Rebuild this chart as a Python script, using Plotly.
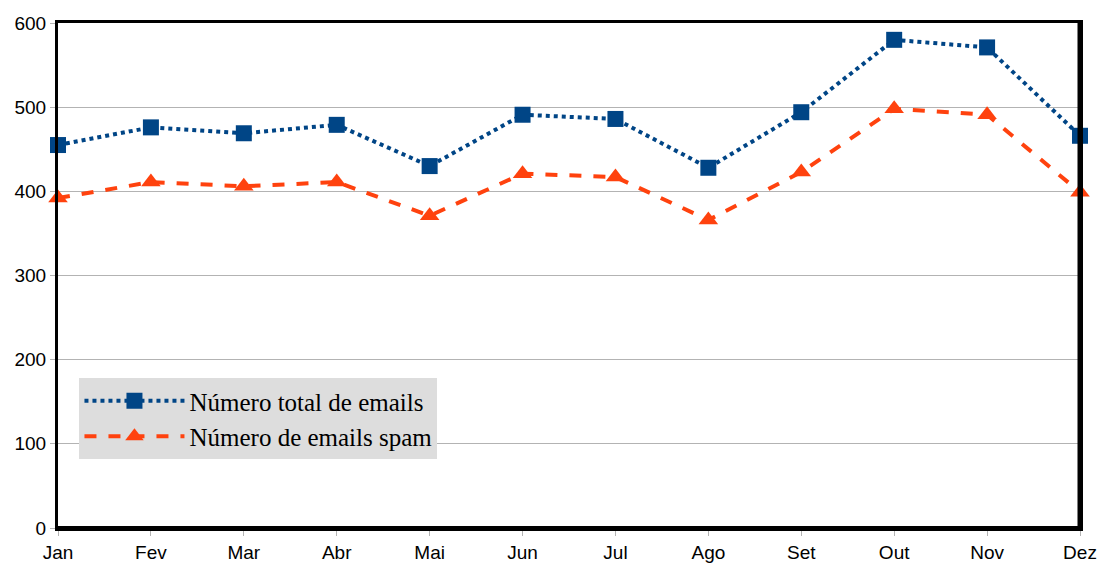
import plotly.graph_objects as go

months = ["Jan", "Fev", "Mar", "Abr", "Mai", "Jun", "Jul", "Ago", "Set", "Out", "Nov", "Dez"]
total_emails = [455, 476, 469, 479, 430, 491, 486, 428, 494, 580, 571, 466]
spam_emails = [392, 411, 406, 411, 371, 421, 417, 366, 423, 498, 491, 399]
y_ticks = [0, 100, 200, 300, 400, 500, 600]

fig = go.Figure()
fig.add_trace(go.Scatter(
    x=months, y=total_emails, name="Número total de emails", mode="lines+markers",
    line=dict(color="#004586", width=4, dash="dot"),
    marker=dict(symbol="square", size=16, color="#004586"),
    cliponaxis=False,
))
fig.add_trace(go.Scatter(
    x=months, y=spam_emails, name="Número de emails spam", mode="lines+markers",
    line=dict(color="#ff420e", width=4, dash="dash"),
    marker=dict(symbol="triangle-up", size=17, color="#ff420e"),
    cliponaxis=False,
))

fig.update_layout(
    width=1099, height=563,
    margin=dict(l=58, r=19, t=23, b=35),
    paper_bgcolor="white", plot_bgcolor="white",
    font=dict(family="Liberation Sans, Arial, sans-serif", size=19, color="black"),
    showlegend=True,
    legend=dict(
        x=0.021, y=0.297, xanchor="left", yanchor="top",
        bgcolor="#dddddd",
        font=dict(family="Liberation Serif, Times New Roman, serif", size=25, color="black"),
        itemwidth=100, tracegroupgap=0,
    ),
)
fig.update_xaxes(
    type="category", range=[0, 11], automargin=False,
    showgrid=False, ticks="outside", ticklen=5, tickcolor="#b3b3b3",
    showline=True, linecolor="black", linewidth=3, mirror=True,
    tickfont=dict(size=19), zeroline=False,
)
fig.update_yaxes(
    range=[0, 600], tickvals=y_ticks, automargin=False,
    showgrid=True, gridcolor="#b3b3b3", gridwidth=1,
    ticks="outside", ticklen=5, tickcolor="#b3b3b3",
    showline=True, linecolor="black", linewidth=3, mirror=True,
    tickfont=dict(size=19), zeroline=False,
)
# shadow on right and bottom edges of the frame
fig.add_shape(type="line", xref="paper", yref="paper", x0=1, x1=1, y0=0, y1=1,
              line=dict(color="black", width=5), layer="above")
fig.add_shape(type="line", xref="paper", yref="paper", x0=0, x1=1, y0=0, y1=0,
              line=dict(color="black", width=4), layer="above")

fig.write_html("out.html", config={"displayModeBar": False},
               post_script="document.body.style.margin='0';")
